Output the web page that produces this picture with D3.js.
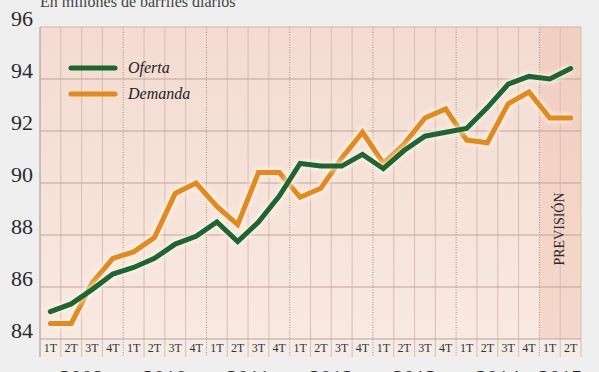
<!DOCTYPE html>
<html>
<head>
<meta charset="utf-8">
<script src="https://cdn.jsdelivr.net/npm/d3@7"></script>
<style>
  body { margin: 0; background: #efefef; }
  svg { display: block; }
</style>
</head>
<body>
<svg id="chart" width="599" height="372"></svg>
<script>
const years = ["2009", "2010", "2011", "2012", "2013", "2014", "2015"];
const periods = ["2009-1T","2009-2T","2009-3T","2009-4T","2010-1T","2010-2T","2010-3T","2010-4T",
  "2011-1T","2011-2T","2011-3T","2011-4T","2012-1T","2012-2T","2012-3T","2012-4T",
  "2013-1T","2013-2T","2013-3T","2013-4T","2014-1T","2014-2T","2014-3T","2014-4T",
  "2015-1T","2015-2T"];
const oferta = [85.05, 85.35, 85.9, 86.5, 86.75, 87.1, 87.65, 87.95, 88.5, 87.75, 88.5, 89.5,
  90.75, 90.65, 90.65, 91.1, 90.55, 91.25, 91.8, 91.95, 92.1, 92.9, 93.8, 94.1, 94.0, 94.4];
const demanda = [84.6, 84.6, 86.15, 87.1, 87.35, 87.9, 89.6, 90.0, 89.1, 88.4, 90.4, 90.4,
  89.45, 89.8, 90.95, 91.95, 90.75, 91.5, 92.5, 92.85, 91.65, 91.55, 93.05, 93.5, 92.5, 92.5];
const yTicks = [84, 86, 88, 90, 92, 94, 96];
const forecast = ["2015-1T", "2015-2T"];
const series = [
  { name: "Oferta", values: oferta, color: "#1b6631" },
  { name: "Demanda", values: demanda, color: "#e4891b" }
];

const svg = d3.select("#chart");
const plotLeft = 40, plotRight = 581, plotTop = 27, plotBottom = 339, bandBottom = 357;

const x = d3.scaleBand().domain(periods).range([plotLeft, plotRight]);
const y = d3.scaleLinear().domain([84, 96]).range([plotBottom, plotTop]);

const defs = svg.append("defs");
const grad = defs.append("linearGradient").attr("id", "bg").attr("x1", 0).attr("y1", 0).attr("x2", 0).attr("y2", 1);
grad.append("stop").attr("offset", "0%").attr("stop-color", "#f3dbd1");
grad.append("stop").attr("offset", "100%").attr("stop-color", "#f8e9e1");
const grad2 = defs.append("linearGradient").attr("id", "fc").attr("x1", 0).attr("y1", 0).attr("x2", 0).attr("y2", 1);
grad2.append("stop").attr("offset", "0%").attr("stop-color", "#f1cfc2");
grad2.append("stop").attr("offset", "100%").attr("stop-color", "#f5d8cb");
const glow = defs.append("filter").attr("id", "glow").attr("x", "-10%").attr("y", "-10%").attr("width", "120%").attr("height", "120%");
glow.append("feGaussianBlur").attr("stdDeviation", 2);

// title (cut off at the top of the picture, as in the original)
svg.append("text")
  .attr("x", 40).attr("y", 7)
  .attr("font-family", "Liberation Serif, serif")
  .attr("font-size", 16)
  .attr("fill", "#444")
  .text("En millones de barriles diarios");

// plot background
svg.append("rect")
  .attr("x", plotLeft).attr("y", plotTop)
  .attr("width", plotRight - plotLeft).attr("height", plotBottom - plotTop)
  .attr("fill", "url(#bg)");
svg.append("rect")
  .attr("x", plotLeft).attr("y", plotBottom)
  .attr("width", plotRight - plotLeft).attr("height", bandBottom - plotBottom)
  .attr("fill", "#f4ece7");
svg.append("rect")
  .attr("x", x(forecast[0])).attr("y", plotTop)
  .attr("width", x.bandwidth() * forecast.length).attr("height", plotBottom - plotTop)
  .attr("fill", "url(#fc)");

// vertical grid: quarter lines solid, year lines dotted
const bounds = periods.map(p => x(p)).concat([plotRight]);
svg.append("g").selectAll("line")
  .data(bounds)
  .join("line")
  .attr("x1", d => d).attr("x2", d => d)
  .attr("y1", plotTop).attr("y2", bandBottom)
  .attr("stroke", (d, i) => i % 4 === 0 ? "#a89088" : "#d8bdb3")
  .attr("stroke-width", 1)
  .attr("stroke-dasharray", (d, i) => i % 4 === 0 && i > 0 && i < bounds.length - 1 ? "1,1.5" : null);

// horizontal grid
svg.append("g").selectAll("line")
  .data(yTicks)
  .join("line")
  .attr("x1", plotLeft).attr("x2", plotRight)
  .attr("y1", d => y(d)).attr("y2", d => y(d))
  .attr("stroke", d => d === 96 ? "#cdb5ac" : "#bfa49a")
  .attr("stroke-width", 1);

// y axis labels
svg.append("g").selectAll("text")
  .data(yTicks)
  .join("text")
  .attr("x", 33).attr("y", d => y(d) - 1)
  .attr("text-anchor", "end")
  .attr("font-family", "Liberation Serif, serif")
  .attr("font-size", 22)
  .attr("fill", "#2b2b2b")
  .text(d => d);

// quarter labels
svg.append("g").selectAll("text")
  .data(periods)
  .join("text")
  .attr("x", d => x(d) + x.bandwidth() / 2)
  .attr("y", 352)
  .attr("text-anchor", "middle")
  .attr("font-family", "Liberation Serif, serif")
  .attr("font-size", 12)
  .attr("fill", "#333")
  .text(d => d.split("-")[1]);

// year labels (only their tops show, as in the original)
svg.append("g").selectAll("text")
  .data(years)
  .join("text")
  .attr("x", d => {
    const qs = periods.filter(p => p.startsWith(d));
    return (x(qs[0]) + x(qs[qs.length - 1]) + x.bandwidth()) / 2;
  })
  .attr("y", 385)
  .attr("text-anchor", "middle")
  .attr("font-family", "Liberation Serif, serif")
  .attr("font-size", 22)
  .attr("fill", "#222")
  .text(d => d);

// forecast label
svg.append("text")
  .attr("transform", `translate(${x(forecast[0]) + x.bandwidth() + 4}, 229) rotate(-90)`)
  .attr("text-anchor", "middle")
  .attr("font-family", "Liberation Serif, serif")
  .attr("font-size", 14)
  .attr("fill", "#2b2b2b")
  .text("PREVISIÓN");

// lines
const line = d3.line()
  .x((d, i) => x(periods[i]) + x.bandwidth() / 2)
  .y(d => y(d));

const lines = svg.append("g");
series.slice().reverse().forEach(s => {
  lines.append("path")
    .datum(s.values)
    .attr("d", line)
    .attr("fill", "none")
    .attr("stroke", "#fff8ec")
    .attr("stroke-width", 9)
    .attr("stroke-opacity", 0.7)
    .attr("filter", "url(#glow)");
  lines.append("path")
    .datum(s.values)
    .attr("d", line)
    .attr("fill", "none")
    .attr("stroke", s.color)
    .attr("stroke-width", 5)
    .attr("stroke-linejoin", "miter")
    .attr("stroke-linecap", "round");
});

// legend
const legend = svg.append("g").selectAll("g")
  .data(series)
  .join("g")
  .attr("transform", (d, i) => `translate(0, ${68 + i * 26})`);
legend.append("line")
  .attr("x1", 71).attr("x2", 115)
  .attr("stroke", d => d.color)
  .attr("stroke-width", 5)
  .attr("stroke-linecap", "round");
legend.append("text")
  .attr("x", 128).attr("y", 5)
  .attr("font-family", "Liberation Serif, serif")
  .attr("font-style", "italic")
  .attr("font-size", 16)
  .attr("fill", "#222")
  .text(d => d.name);
</script>
</body>
</html>
